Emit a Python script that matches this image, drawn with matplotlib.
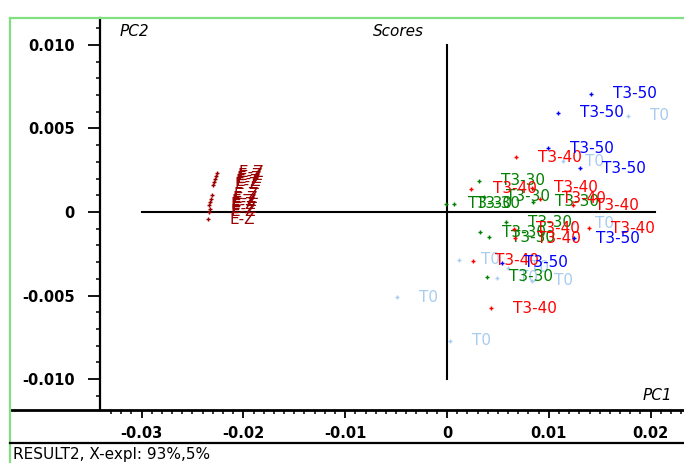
import matplotlib
matplotlib.use("Agg")
import matplotlib.pyplot as plt
from matplotlib.lines import Line2D

# ---------------- data ----------------
t0_x = [0.01778, 0.0114, 0.01238, 0.00118, 0.00491, 0.0060, 0.00835, -0.00491, 0.00029]
t0_y = [0.00575, 0.00305, -0.00066, -0.00287, -0.00395, -0.00335, -0.00413, -0.00509, -0.00772]

ez_x = [-0.02259, -0.02269, -0.02279, -0.02289, -0.02299, -0.02308,
        -0.02318, -0.02328, -0.02338, -0.02328, -0.02338, -0.02348]
ez_y = [0.00234, 0.00216, 0.00198, 0.0018, 0.00162, 0.00102,
        0.00078, 0.0006, 0.00042, 0.00018, 0.0, -0.00042]

t30_x = [0.00314, -0.0001, 0.00069, 0.0036, 0.00845, 0.0058, 0.00324, 0.00413, 0.00393]
t30_y = [0.00186, 0.00048, 0.00048, 0.0009, 0.0006, -0.0006, -0.0012, -0.0015, -0.00389]

t40_x = [0.00678, 0.00236, 0.00835, 0.00913, 0.01238, 0.01395, 0.00658, 0.00668, 0.00255, 0.00432]
t40_y = [0.00329, 0.00138, 0.00144, 0.00078, 0.0004, -0.00096, -0.001, -0.00156, -0.00293, -0.00575]

t50_x = [0.01415, 0.0109, 0.00992, 0.01306, 0.01248, 0.0054]
t50_y = [0.00707, 0.00593, 0.00383, 0.00263, -0.00156, -0.00305]

groups = [
    ("T0", t0_x, t0_y, "#a8ccf0"),
    ("E-Z", ez_x, ez_y, "#990000"),
    ("T3-30", t30_x, t30_y, "#008000"),
    ("T3-40", t40_x, t40_y, "#ff0000"),
    ("T3-50", t50_x, t50_y, "#0000ff"),
]

x_major = [-0.03, -0.02, -0.01, 0.0, 0.01, 0.02]
x_labels = ["-0.03", "-0.02", "-0.01", "0", "0.01", "0.02"]
y_major = [-0.010, -0.005, 0.0, 0.005, 0.010]
y_labels = ["-0.010", "-0.005", "0", "0.005", "0.010"]

# ---------------- layout ----------------
W, H = 684, 463
fig = plt.figure(figsize=(W / 100, H / 100), dpi=100)
fig.patch.set_facecolor("white")

def fxp(px):
    return px / W

def fyp(py):
    return 1 - py / H

ax = fig.add_axes([fxp(10), fyp(410), (684 - 10) / W, (410 - 18) / H])
ax.set_facecolor("white")

def dx(px):
    return (px - 447) / 10180.0

def dy(py):
    return (212 - py) / 16700.0

ax.set_xlim(dx(10), dx(684))
ax.set_ylim(dy(410), dy(18))

for s in ["top", "right"]:
    ax.spines[s].set_visible(False)
ax.spines["left"].set_position(("data", dx(100)))
ax.spines["left"].set_linewidth(1.6)
ax.spines["bottom"].set_linewidth(2.0)

ax.set_xticks(x_major)
ax.set_xticklabels(x_labels)
ax.set_xticks([round(-0.033 + 0.001 * i, 4) for i in range(57)], minor=True)
ax.set_yticks(y_major)
ax.set_yticklabels(y_labels)
ax.set_yticks([round(-0.011 + 0.001 * i, 4) for i in range(23)], minor=True)

ax.tick_params(axis="x", which="major", direction="out", length=5.5, width=1.3, pad=6)
ax.tick_params(axis="x", which="minor", direction="out", length=3, width=1.1)
ax.tick_params(axis="y", which="major", direction="out", length=9, width=1.3, pad=9)
ax.tick_params(axis="y", which="minor", direction="out", length=3, width=1.1)
for lab in ax.get_xticklabels() + ax.get_yticklabels():
    lab.set_fontweight("bold")
    lab.set_fontsize(10.5)
    lab.set_family("DejaVu Sans")

# crosshair
ax.plot([-0.03, dx(655)], [0, 0], color="black", lw=1.5, zorder=2)
ax.plot([0, 0], [-0.010, 0.010], color="black", lw=1.5, zorder=2)

# points + labels
z = 3
for name, xs, ys, col in groups:
    ax.plot(xs, ys, linestyle="none", marker="+", markersize=3.5, mew=1.0,
            color=col, zorder=z)
    for x, y in zip(xs, ys):
        ax.annotate(name, (x, y), xytext=(15.8, 0), textcoords="offset points",
                    ha="left", va="center", color=col, fontsize=11,
                    family="DejaVu Sans", zorder=z, annotation_clip=False)
    z += 1

# axis captions
fig.text(fxp(120), fyp(32), "PC2", ha="left", va="center", style="italic",
         fontsize=11)
fig.text(fxp(398), fyp(32), "Scores", ha="center", va="center", style="italic",
         fontsize=11)
fig.text(fxp(672), fyp(396), "PC1", ha="right", va="center", style="italic",
         fontsize=11)

# frame lines
fig.add_artist(Line2D([fxp(10), fxp(10)], [fyp(18), fyp(463)], color="#80e080",
                      lw=1.6, transform=fig.transFigure))
fig.add_artist(Line2D([fxp(10), fxp(684)], [fyp(18), fyp(18)], color="#80e080",
                      lw=1.6, transform=fig.transFigure))
fig.add_artist(Line2D([fxp(10), fxp(684)], [fyp(443), fyp(443)], color="black",
                      lw=1.6, transform=fig.transFigure))

fig.text(fxp(13), fyp(454), "RESULT2, X-expl: 93%,5%", ha="left", va="center",
         fontsize=11)

fig.savefig("out.png", dpi=100)
